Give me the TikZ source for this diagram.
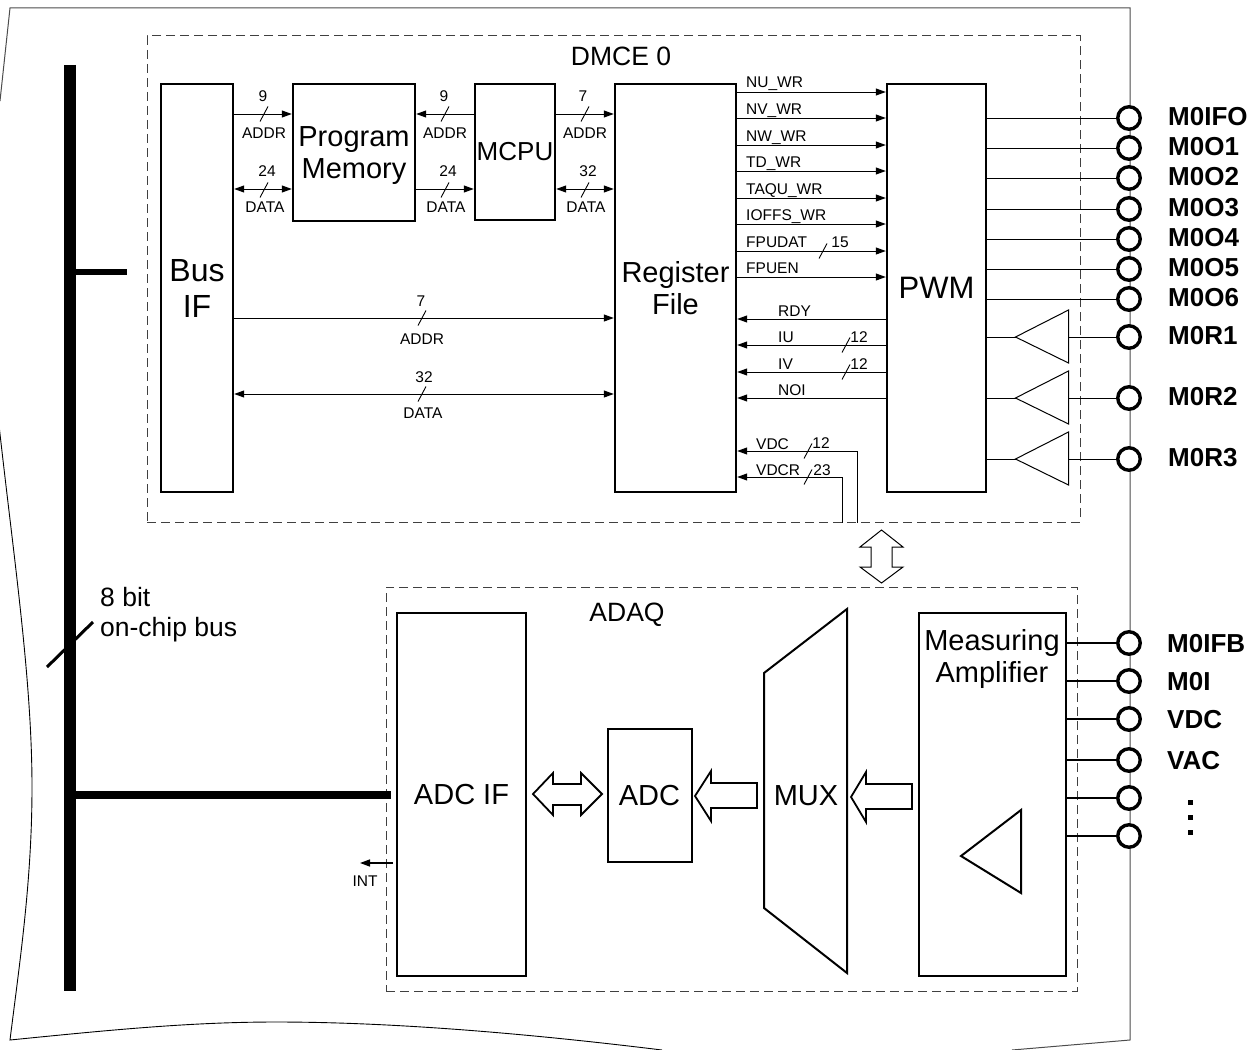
\documentclass[tikz,border=0pt]{standalone}
\usepackage{fontspec}
\setmainfont{Liberation Sans}
\usetikzlibrary{arrows.meta}
\tikzset{>={Stealth[length=10pt,width=7pt,inset=0pt]}}
\tikzset{
    block/.style={draw,line width=2.4pt,inner sep=0pt,align=center,font=\fontsize{29}{32}\selectfont},
    dashbox/.style={draw=black!75,line width=1pt,dash pattern=on 9pt off 5pt,inner sep=0pt},
    sig/.style={line width=1pt},
    slash/.style={line width=.9pt},
    siglabel/.style={inner sep=0pt,font=\fontsize{15.5}{17}\selectfont},
    biglabel/.style={inner sep=0pt,align=left,font=\fontsize{26.5}{30}\selectfont},
    padlabel/.style={inner sep=0pt,anchor=west,font=\fontsize{26}{28}\selectfont\bfseries},
    pad/.style={draw,circle,fill=white,line width=3.4pt,minimum size=22.5pt,inner sep=0pt},
    blockarrow/.style={draw,fill=white,line width=1.8pt,line join=miter},
    thin arrow/.style={draw,fill=white,line width=1pt},
    chipedge/.style={draw=black!70,line width=1pt},
    chipbus/.style={line width=11.5pt}
}
\newcommand{\busslash}[2]{\draw[slash] ({#1-4},{#2+7.5}) -- ({#1+4},{#2-7.5});}

\begin{document}
\begin{tikzpicture}[x=1pt,y=-1pt]
    \useasboundingbox (0,0) rectangle (1255,1049);
    \begin{scope}
        \clip (0,0) rectangle (1255,1049);
        \draw[chipedge,line join=miter] (0,101) -- (10,8) -- (1130,8) -- (1130,1040) -- (1012,1050);
        \draw[black,line width=.9pt] (-1,425) .. controls (14,560) and (32,680) .. (32,787)
        .. controls (32,880) and (20,960) .. (10,1040)
        .. controls (110,1030) and (190,1022) .. (276,1022)
        .. controls (400,1022) and (540,1035) .. (662,1050);
    \end{scope}

    \node[dashbox,minimum width=933,minimum height=486] (dmce) at (613.5,279) {};
    \node[dashbox,minimum width=691,minimum height=404] (adaq) at (731.5,789) {};
    \node[biglabel] (dmcelabel) at (621,56) {DMCE 0};
    \node[biglabel] (adaqlabel) at (627,615) {ADAQ};

    \node[block,minimum width=72,minimum height=408,font=\fontsize{32}{36}\selectfont] (busif) at (197,288) {Bus\\IF};
    \node[block,minimum width=122,minimum height=137] (pmem) at (354,152.5) {Program\\\smash{Memory}};
    \node[block,minimum width=80,minimum height=136,font=\fontsize{26}{30}\selectfont] (mcpu) at (515,152) {MCPU};
    \node[block,minimum width=121,minimum height=408] (regf) at (675.5,288) {Register\\File};
    \node[block,minimum width=99,minimum height=408,font=\fontsize{31}{34}\selectfont] (pwm) at (936.5,288) {PWM};
    \node[block,line width=2pt,minimum width=129,minimum height=363] (adcif) at (461.5,794.5) {\raisebox{-1pt}{ADC IF}};
    \node[block,line width=2pt,minimum width=84,minimum height=133] (adc) at (649.5,795.5) {ADC};
    \node[block,line width=2pt,minimum width=147,minimum height=363] (meas) at (992.5,794.5) {};
    \node[inner sep=0pt,align=center,font=\fontsize{29}{32}\selectfont] (measlabel) at (992,659) {Measuring\\Amplifier};
    \draw[line width=2pt,line join=miter] (961,856) -- (1021,810) -- (1021,893) -- cycle;
    \draw[line width=2pt,line join=miter] (764,673) -- (847,609) -- (847,973) -- (764,908) -- cycle;
    \node[inner sep=0pt,font=\fontsize{29}{32}\selectfont] (mux) at (806,796) {MUX};

    % on-chip bus
    \coordinate (bustop) at (70,65);
    \coordinate (busend) at (70,991);
    \coordinate (stubend) at (127,272);
    \coordinate (intend) at (360,863);
    \draw[chipbus] (bustop) -- (busend);
    \draw[line width=6.5pt] (bustop |- stubend) -- (stubend);
    \draw[line width=8pt] (bustop |- adcif) -- (adcif.west -| 391,0);
    \draw[line width=3pt] (47,667) -- (93,622);
    \node[biglabel] (buslabel) [anchor=west] at (100,615) {8 bit\\on-chip bus};

    % top row between Bus IF, memory, MCPU and register file
    \draw[sig,->] (busif.east |- 0,114) -- (pmem.west |- 0,114);
    \draw[sig,<->] (busif.east |- 0,189) -- (pmem.west |- 0,189);
    \draw[sig,<-] (pmem.east |- 0,114) -- (mcpu.west |- 0,114);
    \draw[sig,->] (pmem.east |- 0,189) -- (mcpu.west |- 0,189);
    \draw[sig,->] (mcpu.east |- 0,114) -- (regf.west |- 0,114);
    \draw[sig,<->] (mcpu.east |- 0,189) -- (regf.west |- 0,189);
    \foreach \i/\x/\a/\xa/\d/\xd/\xt in {1/264/9/263/24/267/265,2/445/9/444/24/448/446,3/585/7/583/32/588/586} {
        \busslash{\x}{114}
        \busslash{\x}{190}
        \node[siglabel] (awidth\i) at (\xa,96) {\a};
        \node[siglabel] (aname\i) at (\x,133) {ADDR};
        \node[siglabel] (dwidth\i) at (\xd,171) {\d};
        \node[siglabel] (dname\i) at (\xt,207) {DATA};
    }

    \draw[sig,->] (busif.east |- 0,318) -- (regf.west |- 0,318);
    \draw[sig,<->] (busif.east |- 0,394) -- (regf.west |- 0,394);
    \busslash{422}{318}
    \busslash{422}{394}
    \node[siglabel] (awidth4) at (421,301) {7};
    \node[siglabel] (aname4) at (422,339) {ADDR};
    \node[siglabel] (dwidth4) at (424,377) {32};
    \node[siglabel] (dname4) at (423,413) {DATA};

    % register file <-> PWM
    \foreach \i/\y/\t in {1/92/NU\_WR,2/118/NV\_WR,3/145/NW\_WR,4/171/TD\_WR,5/198/TAQU\_WR,6/224/IOFFS\_WR,7/251/FPUDAT,8/277/FPUEN} {
        \draw[sig,->] (regf.east |- 0,\y) -- (pwm.west |- 0,\y);
        \node[siglabel,anchor=base west] (wr\i) at (746,\y-4) {\t};
    }
    \busslash{823}{251}
    \node[siglabel] (wrwidth) at (840,242) {15};
    \foreach \i/\y/\t in {1/319/RDY,2/345/IU,3/372/IV,4/398/NOI} {
        \draw[sig,<-] (regf.east |- 0,\y) -- (pwm.west |- 0,\y);
        \node[siglabel,anchor=base west] (rd\i) at (778,\y-3) {\t};
    }
    \foreach \i/\y in {1/345,2/372} {
        \busslash{846}{\y}
        \node[siglabel] (rdwidth\i) at (859,\y-8) {12};
    }
    \draw[sig,<-] (regf.east |- 0,451) -- (857,451) -- (dmce.south -| 857,0);
    \draw[sig,<-] (regf.east |- 0,477) -- (842,477) -- (dmce.south -| 842,0);
    \node[siglabel,anchor=base west] (vdcin) at (756,449) {VDC};
    \node[siglabel,anchor=base west] (vdcrin) at (756,475) {VDCR};
    \busslash{808}{451}
    \busslash{808}{477}
    \node[siglabel] (vdcwidth) at (821,443) {12};
    \node[siglabel] (vdcrwidth) at (822,470) {23};

    % pads
    \foreach \n/\y/\t in {m0ifo/118/M0IFO,m0o1/148/M0O1,m0o2/178/M0O2,m0o3/209/M0O3,m0o4/239/M0O4,m0o5/269/M0O5,m0o6/299/M0O6} {
        \node[pad] (\n) at (1129,\y) {};
        \draw[sig] (pwm.east |- \n) -- (\n);
        \node[padlabel] (\n label) at (1168,\y-1) {\t};
    }
    \foreach \n/\y/\t in {m0r1/337/M0R1,m0r2/398/M0R2,m0r3/459/M0R3} {
        \node[pad] (\n) at (1129,\y) {};
        \coordinate (\n tip) at (1015.5,\y);
        \coordinate (\n base) at (1068.5,\y);
        \draw[sig] (\n tip) -- ++(53,-27) -- ++(0,53) -- cycle;
        \draw[sig] (pwm.east |- \n) -- (\n tip);
        \draw[sig] (\n base) -- (\n);
        \node[padlabel] (\n label) at (1168,\y-1) {\t};
    }
    \foreach \n/\y/\t in {m0ifb/643/M0IFB,m0i/681/M0I,vdc/719/VDC,vac/760/VAC,aux/798/,auy/836/} {
        \node[pad] (\n) at (1129,\y) {};
        \draw[line width=1.4pt] (meas.east |- \n) -- (\n);
        \node[padlabel] (\n label) at (1167,\y+1) {\t};
    }
    \foreach \y in {802,817,832} {
        \fill (1188,\y-2.5) rectangle ++(4.5,5);
    }

    % block arrows
    \draw[blockarrow] (533,794) -- (553,773) -- (553,784) -- (581,784) -- (581,773) -- (602,794)
    -- (581,815) -- (581,805) -- (553,805) -- (553,815) -- cycle;
    \draw[blockarrow] (695,796) -- (711,771) -- (711,783) -- (757,783) -- (757,808) -- (711,808) -- (711,821) -- cycle;
    \draw[blockarrow] (851,797) -- (866,772) -- (866,784) -- (912,784) -- (912,809) -- (866,809) -- (866,822) -- cycle;
    \draw[thin arrow] (881.5,530) -- (903,547) -- (892,547) -- (892,567) -- (903,567) -- (881.5,583)
    -- (860,567) -- (871,567) -- (871,547) -- (860,547) -- cycle;

    % interrupt out of ADC IF
    \draw[line width=1.4pt,->,shorten <=3pt] (adcif.west |- intend) -- (intend);
    \node[siglabel] (intlabel) at (365,881) {INT};
\end{tikzpicture}
\end{document}
